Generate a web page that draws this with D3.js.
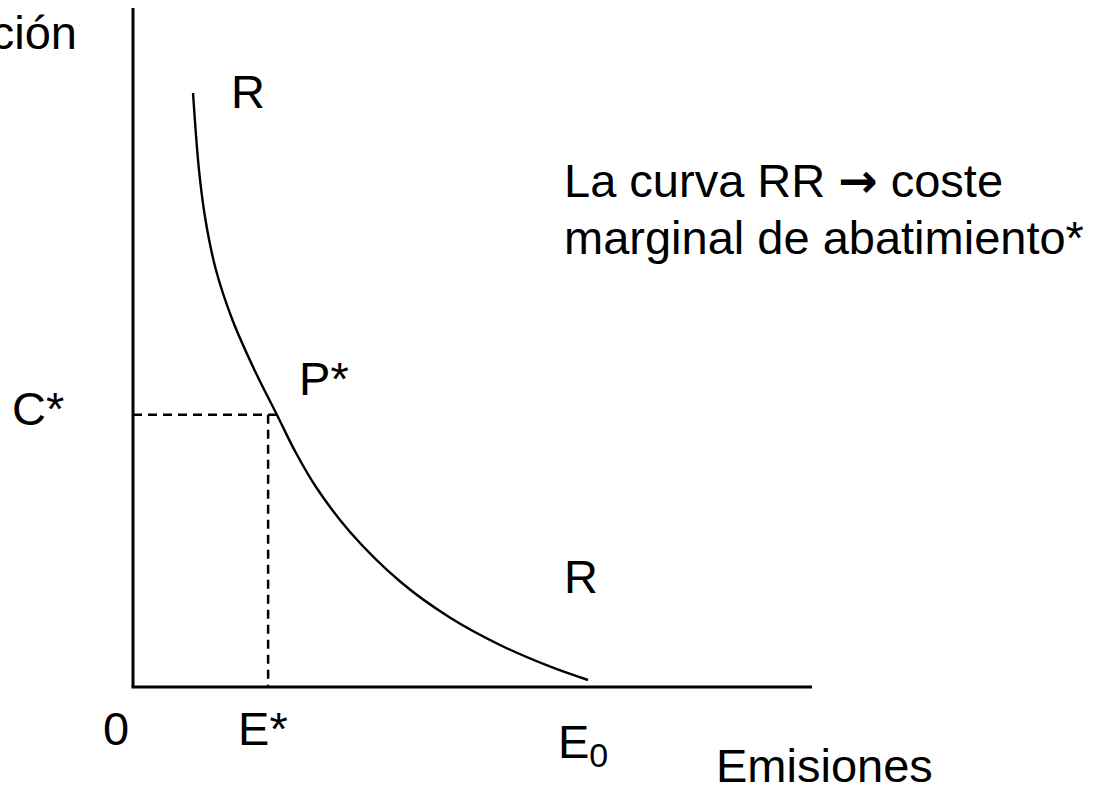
<!DOCTYPE html>
<html>
<head>
<meta charset="utf-8">
<script src="https://cdn.jsdelivr.net/npm/d3@7"></script>
<style>
  body { margin: 0; background: #fff; }
  text { font-family: "Liberation Sans", Arial, sans-serif; fill: #000; }
</style>
</head>
<body>
<div id="chart"></div>
<script>
// curve RR (x = emisiones, y = coste), both on 0..100
let curveX = [8.84, 9.72, 10.68, 12.22, 14.65, 17.89, 21.21, 23.93, 26.95, 31.96, 39.43, 46.54, 54.05, 61.56, 67.01]
let curveY = [87.48, 76.14, 68.78, 61.41, 54.05, 46.69, 40.06, 34.61, 29.46, 22.83, 15.46, 10.31, 6.19, 2.95, 1.03]

// equilibrium point P*
let eStar = 19.9
let cStar = 40.1
let dashEndX = 22.1
let e0 = 67.0

let axisMax = [100, 100]

let width = 1105
let height = 793
let fontSize = 47

let svg = d3.select('#chart')
    .append('svg')
    .attr('width', width)
    .attr('height', height)

var x = d3.scaleLinear()
    .domain([0, axisMax[0]])
    .range([133, 812])
var y = d3.scaleLinear()
    .domain([0, axisMax[1]])
    .range([687, 8])

// axes (plain lines, no ticks)
svg.append('line')
    .attr('x1', x(0)).attr('y1', y(0))
    .attr('x2', x(0)).attr('y2', y(axisMax[1]))
    .attr('stroke', '#000')
    .attr('stroke-width', 3)
svg.append('line')
    .attr('x1', x(0) - 1.5).attr('y1', y(0))
    .attr('x2', x(axisMax[0])).attr('y2', y(0))
    .attr('stroke', '#000')
    .attr('stroke-width', 3)

// dashed guides to P*
svg.append('line')
    .attr('x1', x(0)).attr('y1', y(cStar))
    .attr('x2', x(dashEndX)).attr('y2', y(cStar))
    .attr('stroke', '#000')
    .attr('stroke-width', 2.5)
    .attr('stroke-dasharray', '9,6')
svg.append('line')
    .attr('x1', x(eStar)).attr('y1', y(cStar))
    .attr('x2', x(eStar)).attr('y2', y(0))
    .attr('stroke', '#000')
    .attr('stroke-width', 2.5)
    .attr('stroke-dasharray', '9,6')

let pts = curveX.map((d, i) => [d, curveY[i]])
let line = d3.line()
    .x(d => x(d[0]))
    .y(d => y(d[1]))
    .curve(d3.curveCatmullRom.alpha(0.5))

svg.append('path')
    .datum(pts)
    .attr('d', line)
    .attr('fill', 'none')
    .attr('stroke', '#000')
    .attr('stroke-width', 2.4)

function label(txt, px, py, anchor) {
    return svg.append('text')
        .attr('x', px)
        .attr('y', py)
        .attr('font-size', fontSize)
        .attr('text-anchor', anchor || 'start')
        .text(txt)
}

label('Coste de reducción', 77, 49, 'end')
label('R', 231, 108)

let note = label('La curva RR ', 564, 197)
note.append('tspan')
    .style('font-family', '"DejaVu Sans", sans-serif')
    .style('font-weight', 'bold')
    .text('\u2192')
note.append('tspan').text(' coste')
label('marginal de abatimiento*', 564, 254)

label('P*', x(eStar) + 31, 395)
label('C*', 12, 425)
label('R', 564, 593)
label('0', 103, 745)
label('E*', x(eStar) - 30, 745)

let e0Label = label('E', x(e0) - 30, 758)
e0Label.append('tspan')
    .attr('font-size', 34)
    .attr('dy', 9)
    .text('0')

label('Emisiones', 716, 782)
</script>
</body>
</html>
